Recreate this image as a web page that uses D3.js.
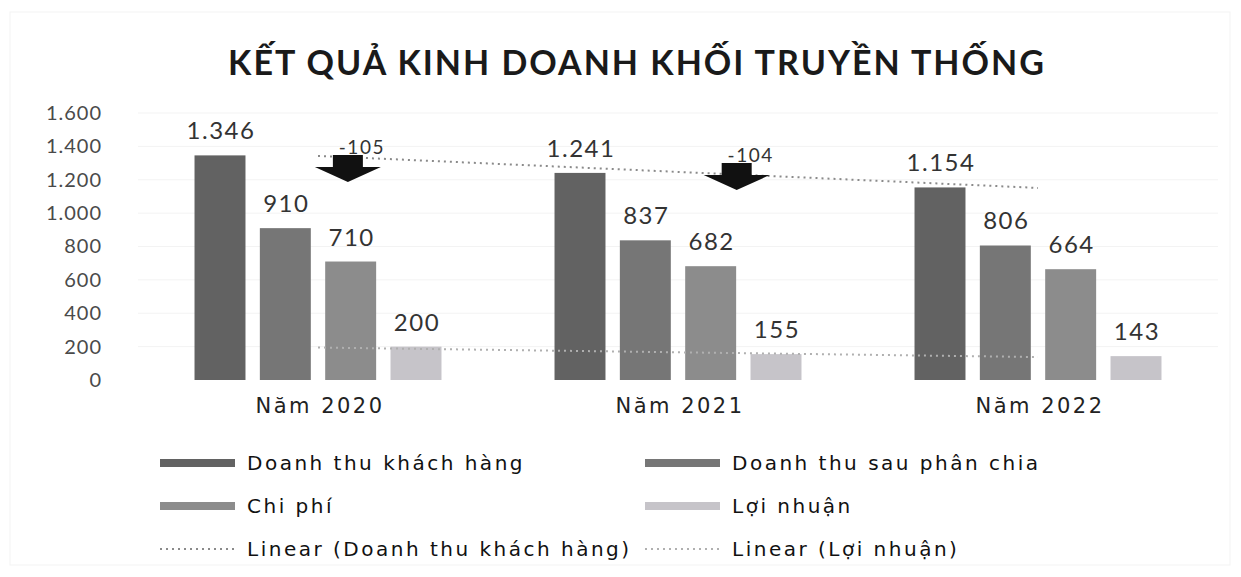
<!DOCTYPE html>
<html lang="vi">
<head>
<meta charset="utf-8">
<title>Kết quả kinh doanh khối truyền thống</title>
<script src="https://d3js.org/d3.v7.min.js"></script>
<style>
  body { margin: 0; background: #fff; }
  svg { display: block; }
</style>
</head>
<body>
<div id="chart"></div>
<script>
// data
const years = ["Năm 2020", "Năm 2021", "Năm 2022"];
const seriesNames = ["Doanh thu khách hàng", "Doanh thu sau phân chia", "Chi phí", "Lợi nhuận"];
const doanhThuKH = [1346, 1241, 1154];
const doanhThuSauPC = [910, 837, 806];
const chiPhi = [710, 682, 664];
const loiNhuan = [200, 155, 143];
const yTicks = [0, 200, 400, 600, 800, 1000, 1200, 1400, 1600];
// down arrows: group position (index), value of arrow top, label
const arrowPos = [0.083, 1.163];
const arrowTop = [1348, 1300];
const arrowLabels = ["-105", "-104"];

const W = 1241, H = 577;
const colors = ["#626262", "#767676", "#8c8c8c", "#c6c4c9"];

const svg = d3.select("#chart").append("svg")
  .attr("width", W).attr("height", H);

// faint scan frame
svg.append("rect")
  .attr("x", 10).attr("y", 12).attr("width", 1220).attr("height", 553)
  .attr("fill", "none").attr("stroke", "#f3f3f3");

// title
svg.append("text")
  .attr("x", 637).attr("y", 75)
  .attr("text-anchor", "middle")
  .style("font-family", "Lato, 'Open Sans', sans-serif")
  .style("font-weight", "bold")
  .style("font-size", "34px")
  .style("letter-spacing", "2px")
  .style("fill", "#1a1a1a")
  .text("KẾT QUẢ KINH DOANH KHỐI TRUYỀN THỐNG");

// scales
const x0 = d3.scaleBand().domain(years).range([138, 1218])
  .paddingInner(0.314).paddingOuter(0.157);
const x1 = d3.scaleBand().domain(seriesNames).range([0, x0.bandwidth()])
  .paddingInner(0.22);
const y = d3.scaleLinear().domain([0, 1600]).range([380, 113]);
// continuous position over the group index for trend lines / arrows
const xi = d => x0(years[0]) + x0.bandwidth() / 2 + d * x0.step();
const fmt = d => d3.format(",")(d).replace(/,/g, ".");

// faint grid
svg.append("g").selectAll("line").data(yTicks.slice(1)).join("line")
  .attr("x1", 138).attr("x2", 1218)
  .attr("y1", d => y(d)).attr("y2", d => y(d))
  .attr("stroke", "#f3f3f3");

// y axis labels
const yAxis = svg.append("g")
  .attr("transform", "translate(110,0)")
  .call(d3.axisLeft(y).tickValues(yTicks).tickSize(0).tickPadding(8)
    .tickFormat(fmt));
yAxis.select(".domain").remove();
yAxis.selectAll("text")
  .style("font-family", "Lato, sans-serif")
  .style("font-size", "20px")
  .style("letter-spacing", "1px")
  .style("fill", "#4a4a4a");

// x axis labels
const xAxis = svg.append("g")
  .attr("transform", "translate(2,392)")
  .call(d3.axisBottom(x0).tickSize(0).tickPadding(6));
xAxis.select(".domain").remove();
xAxis.selectAll("text")
  .style("font-family", "'DejaVu Sans', Verdana, sans-serif")
  .style("font-size", "21px")
  .style("letter-spacing", "2.5px")
  .style("fill", "#222");

// bars
const rows = years.map((yr, i) => ({
  year: yr,
  vals: [doanhThuKH[i], doanhThuSauPC[i], chiPhi[i], loiNhuan[i]]
}));

const groups = svg.append("g").selectAll("g").data(rows).join("g")
  .attr("transform", d => "translate(" + x0(d.year) + ",0)");

groups.selectAll("rect").data(d => d.vals.map((v, j) => ({ v, s: seriesNames[j], j })))
  .join("rect")
  .attr("x", d => x1(d.s))
  .attr("y", d => y(d.v))
  .attr("width", x1.bandwidth())
  .attr("height", d => y(0) - y(d.v))
  .attr("fill", d => colors[d.j]);

groups.selectAll("text").data(d => d.vals.map((v, j) => ({ v, s: seriesNames[j] })))
  .join("text")
  .attr("x", d => x1(d.s) + x1.bandwidth() / 2 + 1)
  .attr("y", d => y(d.v) - 16)
  .attr("text-anchor", "middle")
  .style("font-family", "Lato, sans-serif")
  .style("font-size", "24px")
  .style("letter-spacing", "1.5px")
  .style("fill", "#333")
  .text(d => fmt(d.v));

// linear trend lines (least squares over group index)
function trend(vals) {
  const n = vals.length, mx = (n - 1) / 2, my = d3.mean(vals);
  let num = 0, den = 0;
  vals.forEach((v, i) => { num += (i - mx) * (v - my); den += (i - mx) * (i - mx); });
  const b = num / den, a = my - b * mx;
  return [[0, a], [n - 1, a + b * (n - 1)]];
}
const line = d3.line().x(d => xi(d[0])).y(d => y(d[1]));
svg.append("path").datum(trend(doanhThuKH))
  .attr("d", line).attr("fill", "none")
  .attr("stroke", "#8a8a8a").attr("stroke-width", 2)
  .attr("stroke-dasharray", "2,4");
svg.append("path").datum(trend(loiNhuan))
  .attr("d", line).attr("fill", "none")
  .attr("stroke", "#b0b0b0").attr("stroke-width", 2)
  .attr("stroke-dasharray", "2,4");

// down arrows
arrowPos.forEach((p, i) => {
  const cx = xi(p), top = y(arrowTop[i]);
  svg.append("path")
    .attr("d", "M" + (cx - 15) + "," + top + "h30v12h18l-33,15l-33,-15h18z")
    .attr("fill", "#111");
  svg.append("text")
    .attr("x", cx + 14).attr("y", top - 1)
    .attr("text-anchor", "middle")
    .style("font-family", "Lato, sans-serif")
    .style("font-size", "19px")
    .style("letter-spacing", "1.5px")
    .style("fill", "#333")
    .text(arrowLabels[i]);
});

// legend
const legendItems = [
  { label: seriesNames[0], type: "bar", c: colors[0] },
  { label: seriesNames[1], type: "bar", c: colors[1] },
  { label: seriesNames[2], type: "bar", c: colors[2] },
  { label: seriesNames[3], type: "bar", c: colors[3] },
  { label: "Linear (Doanh thu khách hàng)", type: "line", c: "#8a8a8a" },
  { label: "Linear (Lợi nhuận)", type: "line", c: "#b0b0b0" }
];
const lg = svg.append("g").selectAll("g").data(legendItems).join("g")
  .attr("transform", (d, i) => "translate(" + (i % 2 ? 645 : 160) + "," + (463 + Math.floor(i / 2) * 43) + ")");
lg.filter(d => d.type === "bar").append("rect")
  .attr("x", 0).attr("y", -4).attr("width", 75).attr("height", 8)
  .attr("fill", d => d.c);
lg.filter(d => d.type === "line").append("line")
  .attr("x1", 0).attr("x2", 75).attr("y1", 0).attr("y2", 0)
  .attr("stroke", d => d.c).attr("stroke-width", 2)
  .attr("stroke-dasharray", "2,4");
lg.append("text")
  .attr("x", 87).attr("y", 0).attr("dy", "0.35em")
  .style("font-family", "'DejaVu Sans', Verdana, sans-serif")
  .style("font-size", "20px")
  .style("letter-spacing", "2.5px")
  .style("fill", "#111")
  .text(d => d.label);
</script>
</body>
</html>
